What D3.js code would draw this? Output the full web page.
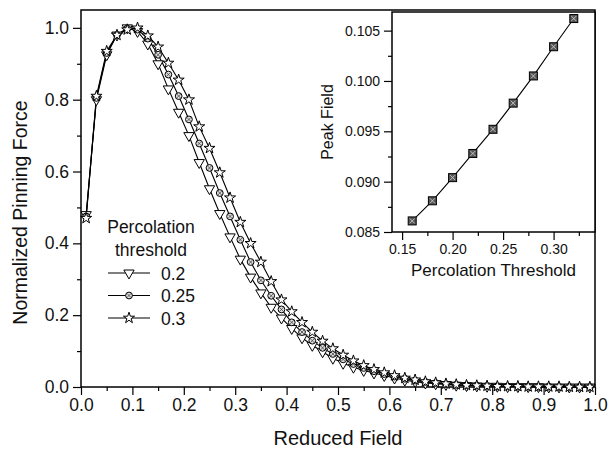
<!DOCTYPE html>
<html>
<head>
<meta charset="utf-8">
<script src="https://cdn.jsdelivr.net/npm/d3@7"></script>
<style>
  body { margin: 0; background: #fff; }
  text { font-family: "Liberation Sans", Arial, sans-serif; fill: #111; }
</style>
</head>
<body>
<div id="demo"></div>
<script>
// reduced field values (x) shared by the three curves
const fieldX = [0.01, 0.03, 0.05, 0.07, 0.09, 0.11, 0.13, 0.15, 0.17, 0.19,
                0.21, 0.23, 0.25, 0.27, 0.29, 0.31, 0.33, 0.35, 0.37, 0.39,
                0.41, 0.43, 0.45, 0.47, 0.49, 0.51, 0.53, 0.55, 0.57, 0.59,
                0.61, 0.63, 0.65, 0.67, 0.69, 0.71, 0.73, 0.75, 0.77, 0.79,
                0.81, 0.83, 0.85, 0.87, 0.89, 0.91, 0.93, 0.95, 0.97, 0.99];

// normalized pinning force, percolation threshold 0.2
const force020 = [0.48, 0.80, 0.925, 0.98, 1.0, 0.99, 0.955, 0.90, 0.83, 0.765,
                  0.70, 0.625, 0.552, 0.483, 0.418, 0.356, 0.306, 0.262, 0.222, 0.192,
                  0.163, 0.137, 0.116, 0.098, 0.080, 0.066, 0.055, 0.046, 0.039, 0.032,
                  0.025, 0.019, 0.015, 0.011, 0.009, 0.007, 0.005, 0.004, 0.003, 0.002,
                  0.002, 0.001, 0.001, 0.001, 0.001, 0.0, 0.0, 0.0, 0.0, 0.0];
// percolation threshold 0.25
const force025 = [0.475, 0.805, 0.93, 0.98, 0.998, 0.995, 0.97, 0.925, 0.87, 0.81,
                  0.745, 0.678, 0.61, 0.54, 0.475, 0.41, 0.348, 0.297, 0.254, 0.216,
                  0.180, 0.153, 0.129, 0.109, 0.092, 0.077, 0.064, 0.053, 0.044, 0.036,
                  0.029, 0.023, 0.018, 0.014, 0.011, 0.008, 0.006, 0.005, 0.004, 0.003,
                  0.002, 0.002, 0.001, 0.001, 0.001, 0.001, 0.0, 0.0, 0.0, 0.0];
// percolation threshold 0.3
const force030 = [0.47, 0.81, 0.935, 0.98, 0.995, 1.0, 0.978, 0.947, 0.902, 0.855,
                  0.80, 0.725, 0.665, 0.597, 0.527, 0.459, 0.400, 0.348, 0.294, 0.243,
                  0.210, 0.180, 0.153, 0.128, 0.107, 0.089, 0.073, 0.060, 0.049, 0.040,
                  0.032, 0.025, 0.020, 0.015, 0.012, 0.009, 0.007, 0.005, 0.004, 0.003,
                  0.002, 0.002, 0.002, 0.001, 0.001, 0.001, 0.001, 0.0, 0.0, 0.0];

const seriesNames = ["0.2", "0.25", "0.3"];

// inset: peak field vs percolation threshold
const insetThreshold = [0.16, 0.18, 0.20, 0.22, 0.24, 0.26, 0.28, 0.30, 0.32];
const insetPeak = [0.0861, 0.0881, 0.0904, 0.0928, 0.0952, 0.0978, 0.1005, 0.1034, 0.1062];

const xTicks = [0, 0.1, 0.2, 0.3, 0.4, 0.5, 0.6, 0.7, 0.8, 0.9, 1.0];
const yTicks = [0, 0.2, 0.4, 0.6, 0.8, 1.0];
const insetXTicks = [0.15, 0.20, 0.25, 0.30];
const insetYTicks = [0.085, 0.090, 0.095, 0.100, 0.105];

const W = 610, H = 449;
const svg = d3.select("#demo").append("svg")
    .attr("width", W).attr("height", H);

// main plot frame
const m = {left: 81, right: 595, top: 10, bottom: 387};
const x = d3.scaleLinear().domain([0, 1]).range([m.left, m.right]);
const y = d3.scaleLinear().domain([0, 1.0497]).range([m.bottom, m.top]);

function drawAxes(g, xs, ys, xt, yt, xMinor, yMinor, fmtX, fmtY, fs, tl) {
    const xa = g.append("g").attr("transform", `translate(0,${ys.range()[0]})`)
        .call(d3.axisBottom(xs).tickValues(xt).tickFormat(fmtX).tickSize(tl).tickPadding(4));
    const xm = g.append("g").attr("transform", `translate(0,${ys.range()[0]})`)
        .call(d3.axisBottom(xs).tickValues(xMinor).tickFormat("").tickSize(tl / 2));
    const ya = g.append("g").attr("transform", `translate(${xs.range()[0]},0)`)
        .call(d3.axisLeft(ys).tickValues(yt).tickFormat(fmtY).tickSize(tl).tickPadding(4));
    const ym = g.append("g").attr("transform", `translate(${xs.range()[0]},0)`)
        .call(d3.axisLeft(ys).tickValues(yMinor).tickFormat("").tickSize(tl / 2));
    [xa, xm, ya, ym].forEach(a => {
        a.select(".domain").remove();
        a.selectAll("line").attr("stroke", "#000").attr("stroke-width", 1.2);
        a.selectAll("text").style("font-size", fs + "px").attr("fill", "#111");
    });
    g.append("rect")
        .attr("x", xs.range()[0]).attr("y", ys.range()[1])
        .attr("width", xs.range()[1] - xs.range()[0])
        .attr("height", ys.range()[0] - ys.range()[1])
        .attr("fill", "none").attr("stroke", "#000").attr("stroke-width", 1.5);
}

const main = svg.append("g");
drawAxes(main, x, y, xTicks, yTicks,
    [0.05, 0.15, 0.25, 0.35, 0.45, 0.55, 0.65, 0.75, 0.85, 0.95],
    [0.1, 0.3, 0.5, 0.7, 0.9],
    d3.format(".1f"), d3.format(".1f"), 17.5, 8);

main.append("text")
    .attr("x", (m.left + m.right) / 2).attr("y", 445)
    .attr("text-anchor", "middle").style("font-size", "20px")
    .text("Reduced Field");
main.append("text")
    .attr("transform", `translate(27,${(m.top + m.bottom) / 2 + 14}) rotate(-90)`)
    .attr("text-anchor", "middle").style("font-size", "19.5px")
    .text("Normalized Pinning Force");

// marker drawing helpers
const triPath = d3.symbol().type(d3.symbolTriangle).size(46)();
const starPath = d3.symbol().type(d3.symbolStar).size(38)();
function marker(g, kind, cx, cy) {
    if (kind === 0) {
        g.append("path").attr("d", triPath)
            .attr("transform", `translate(${cx},${cy}) rotate(180)`)
            .attr("fill", "#fff").attr("stroke", "#000").attr("stroke-width", 1);
    } else if (kind === 1) {
        g.append("circle").attr("cx", cx).attr("cy", cy).attr("r", 3.4)
            .attr("fill", "#ddd").attr("stroke", "#000").attr("stroke-width", 1);
        g.append("path")
            .attr("d", `M${cx - 2.2},${cy - 2.2}L${cx + 2.2},${cy + 2.2}M${cx - 2.2},${cy + 2.2}L${cx + 2.2},${cy - 2.2}`)
            .attr("stroke", "#444").attr("stroke-width", 0.8);
    } else {
        g.append("path").attr("d", starPath)
            .attr("transform", `translate(${cx},${cy})`)
            .attr("fill", "#fff").attr("stroke", "#000").attr("stroke-width", 1);
    }
}

const curves = [force020, force025, force030];
const line = d3.line().x(d => x(d[0])).y(d => y(d[1]));
const curveG = main.append("g");
curves.forEach(vals => {
    curveG.append("path")
        .datum(fieldX.map((fx, i) => [fx, vals[i]]))
        .attr("d", line).attr("fill", "none")
        .attr("stroke", "#000").attr("stroke-width", 1.1);
});
curves.forEach((vals, k) => {
    fieldX.forEach((fx, i) => marker(curveG, k, x(fx), y(vals[i])));
});

// legend
const leg = main.append("g");
leg.append("text").attr("x", 151).attr("y", 233).attr("text-anchor", "middle")
    .style("font-size", "17.5px").text("Percolation");
leg.append("text").attr("x", 151).attr("y", 256).attr("text-anchor", "middle")
    .style("font-size", "17.5px").text("threshold");
seriesNames.forEach((name, k) => {
    const ly = 273 + k * 22.5;
    leg.append("line").attr("x1", 108).attr("x2", 150).attr("y1", ly).attr("y2", ly)
        .attr("stroke", "#000").attr("stroke-width", 1.1);
    marker(leg, k, 129, ly);
    leg.append("text").attr("x", 161).attr("y", ly + 6.5)
        .style("font-size", "17.5px").text(name);
});

// inset
const ins = {left: 392, right: 595, top: 12, bottom: 232};
const ix = d3.scaleLinear().domain([0.14, 0.341]).range([ins.left, ins.right]);
const iy = d3.scaleLinear().domain([0.085, 0.10685]).range([ins.bottom, ins.top]);
const inset = svg.append("g");
inset.append("rect").attr("x", ins.left).attr("y", ins.top)
    .attr("width", ins.right - ins.left).attr("height", ins.bottom - ins.top)
    .attr("fill", "#fff");
drawAxes(inset, ix, iy, insetXTicks, insetYTicks,
    [0.175, 0.225, 0.275, 0.325],
    [0.0875, 0.0925, 0.0975, 0.1025],
    d3.format(".2f"), d3.format(".3f"), 14, 8);

inset.append("text")
    .attr("x", (ins.left + ins.right) / 2).attr("y", 276)
    .attr("text-anchor", "middle").style("font-size", "17px")
    .text("Percolation Threshold");
inset.append("text")
    .attr("transform", `translate(333,${(ins.top + ins.bottom) / 2}) rotate(-90)`)
    .attr("text-anchor", "middle").style("font-size", "16px")
    .text("Peak Field");

inset.append("path")
    .datum(insetThreshold.map((t, i) => [t, insetPeak[i]]))
    .attr("d", d3.line().x(d => ix(d[0])).y(d => iy(d[1])))
    .attr("fill", "none").attr("stroke", "#000").attr("stroke-width", 1.1);
insetThreshold.forEach((t, i) => {
    const cx = ix(t), cy = iy(insetPeak[i]);
    inset.append("rect").attr("x", cx - 4).attr("y", cy - 4).attr("width", 8).attr("height", 8)
        .attr("fill", "#555").attr("stroke", "#000").attr("stroke-width", 1);
    inset.append("path")
        .attr("d", `M${cx - 2.5},${cy - 2.5}L${cx + 2.5},${cy + 2.5}M${cx - 2.5},${cy + 2.5}L${cx + 2.5},${cy - 2.5}`)
        .attr("stroke", "#ccc").attr("stroke-width", 0.9);
});
</script>
</body>
</html>
